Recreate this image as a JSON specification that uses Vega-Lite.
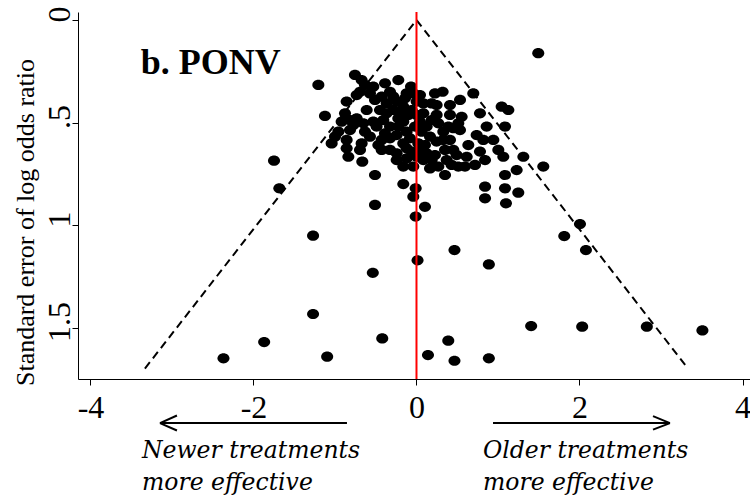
{
  "$schema": "https://vega.github.io/schema/vega-lite/v6.json",
  "width": 672,
  "height": 367,
  "autosize": "none",
  "padding": {"left": 78, "top": 12, "right": 0, "bottom": 122},
  "background": "white",
  "config": {
    "view": {"stroke": null},
    "axis": {"labelFontSize": 32, "titleFontSize": 26}
  },
  "datasets": {
    "studies": [
      {"effect": -0.755, "se": 0.268}, {"effect": -0.673, "se": 0.293}, {"effect": -0.632, "se": 0.317}, {"effect": -0.693, "se": 0.35},
      {"effect": -0.734, "se": 0.366}, {"effect": -1.204, "se": 0.317}, {"effect": -0.53, "se": 0.325}, {"effect": -0.571, "se": 0.358},
      {"effect": -0.386, "se": 0.309}, {"effect": -0.223, "se": 0.293}, {"effect": -0.325, "se": 0.35}, {"effect": -0.067, "se": 0.325},
      {"effect": -0.039, "se": 0.358}, {"effect": 0.043, "se": 0.366}, {"effect": 0.227, "se": 0.358}, {"effect": 0.321, "se": 0.35},
      {"effect": 0.697, "se": 0.358}, {"effect": -0.857, "se": 0.398}, {"effect": -0.509, "se": 0.39}, {"effect": -0.366, "se": 0.407},
      {"effect": -0.243, "se": 0.398}, {"effect": -0.141, "se": 0.382}, {"effect": 0.186, "se": 0.407}, {"effect": 0.411, "se": 0.415},
      {"effect": 0.534, "se": 0.39}, {"effect": -1.123, "se": 0.468}, {"effect": -0.877, "se": 0.455}, {"effect": -0.734, "se": 0.48},
      {"effect": -0.918, "se": 0.496}, {"effect": -0.775, "se": 0.512}, {"effect": -0.632, "se": 0.545}, {"effect": -0.816, "se": 0.537},
      {"effect": -0.959, "se": 0.545}, {"effect": -1.0, "se": 0.569}, {"effect": -0.53, "se": 0.496}, {"effect": -0.448, "se": 0.439},
      {"effect": -0.366, "se": 0.455}, {"effect": -0.284, "se": 0.439}, {"effect": -0.223, "se": 0.48}, {"effect": -0.325, "se": 0.52},
      {"effect": -0.223, "se": 0.52}, {"effect": -0.162, "se": 0.496}, {"effect": -0.059, "se": 0.439}, {"effect": 0.002, "se": 0.463},
      {"effect": 0.084, "se": 0.455}, {"effect": 0.043, "se": 0.496}, {"effect": -0.018, "se": 0.52}, {"effect": 0.125, "se": 0.52},
      {"effect": 0.186, "se": 0.488}, {"effect": 0.247, "se": 0.463}, {"effect": 0.268, "se": 0.504}, {"effect": 0.329, "se": 0.545},
      {"effect": 0.391, "se": 0.52}, {"effect": 0.554, "se": 0.472}, {"effect": 0.513, "se": 0.504}, {"effect": 0.452, "se": 0.528},
      {"effect": 0.534, "se": 0.537}, {"effect": 0.779, "se": 0.455}, {"effect": 1.045, "se": 0.423}, {"effect": 1.127, "se": 0.439},
      {"effect": 1.086, "se": 0.52}, {"effect": 0.738, "se": 0.561}, {"effect": 0.943, "se": 0.585}, {"effect": -1.041, "se": 0.602},
      {"effect": -0.857, "se": 0.585}, {"effect": -0.673, "se": 0.602}, {"effect": -0.468, "se": 0.61}, {"effect": -0.325, "se": 0.577},
      {"effect": -0.162, "se": 0.602}, {"effect": -0.08, "se": 0.577}, {"effect": 0.022, "se": 0.602}, {"effect": 0.636, "se": 0.61},
      {"effect": -0.857, "se": 0.626}, {"effect": -0.836, "se": 0.667}, {"effect": -0.325, "se": 0.634}, {"effect": -0.243, "se": 0.65},
      {"effect": -0.121, "se": 0.675}, {"effect": 0.002, "se": 0.667}, {"effect": -0.039, "se": 0.715}, {"effect": 0.125, "se": 0.65},
      {"effect": 0.186, "se": 0.683}, {"effect": 0.166, "se": 0.724}, {"effect": 0.268, "se": 0.715}, {"effect": 0.35, "se": 0.634},
      {"effect": 0.37, "se": 0.683}, {"effect": 0.431, "se": 0.707}, {"effect": 0.513, "se": 0.715}, {"effect": 0.595, "se": 0.715},
      {"effect": 0.718, "se": 0.707}, {"effect": 0.779, "se": 0.642}, {"effect": 0.841, "se": 0.683}, {"effect": 1.004, "se": 0.634},
      {"effect": 1.065, "se": 0.667}, {"effect": -1.748, "se": 0.686}, {"effect": -0.665, "se": 0.691}, {"effect": -0.509, "se": 0.756},
      {"effect": 0.35, "se": 0.756}, {"effect": 1.086, "se": 0.756}, {"effect": 1.229, "se": 0.732}, {"effect": 1.311, "se": 0.667},
      {"effect": 1.556, "se": 0.715}, {"effect": -1.683, "se": 0.821}, {"effect": -0.162, "se": 0.8}, {"effect": -0.01, "se": 0.821},
      {"effect": -0.039, "se": 0.862}, {"effect": 0.104, "se": 0.911}, {"effect": -0.509, "se": 0.902}, {"effect": -0.01, "se": 0.959},
      {"effect": 0.841, "se": 0.813}, {"effect": 0.841, "se": 0.87}, {"effect": 1.086, "se": 0.821}, {"effect": 1.098, "se": 0.894},
      {"effect": 1.249, "se": 0.842},
      {"effect": -0.427, "se": 0.374}, {"effect": -0.284, "se": 0.374}, {"effect": -0.162, "se": 0.423}, {"effect": -0.1, "se": 0.463},
      {"effect": -0.182, "se": 0.455}, {"effect": -0.407, "se": 0.488}, {"effect": -0.489, "se": 0.52}, {"effect": -0.387, "se": 0.553},
      {"effect": -0.243, "se": 0.561}, {"effect": -0.121, "se": 0.545}, {"effect": 0.063, "se": 0.545}, {"effect": 0.166, "se": 0.569},
      {"effect": 0.247, "se": 0.593}, {"effect": 0.104, "se": 0.61}, {"effect": 0.411, "se": 0.585}, {"effect": 0.329, "se": 0.585},
      {"effect": -0.571, "se": 0.569}, {"effect": -0.427, "se": 0.585}, {"effect": -0.816, "se": 0.488}, {"effect": -0.652, "se": 0.504},
      {"effect": -0.611, "se": 0.439}, {"effect": -0.121, "se": 0.626}, {"effect": 0.022, "se": 0.642}, {"effect": -0.059, "se": 0.642},
      {"effect": 0.227, "se": 0.659}, {"effect": 0.493, "se": 0.659}, {"effect": 0.616, "se": 0.667}, {"effect": 0.084, "se": 0.407},
      {"effect": 0.002, "se": 0.398}, {"effect": 0.247, "se": 0.415}, {"effect": -0.121, "se": 0.358}, {"effect": -0.427, "se": 0.634},
      {"effect": -0.693, "se": 0.634}, {"effect": 0.452, "se": 0.634}, {"effect": 0.82, "se": 0.585}, {"effect": 0.861, "se": 0.52},
      {"effect": 0.411, "se": 0.463}, {"effect": 0.084, "se": 0.683}, {"effect": -0.162, "se": 0.715}, {"effect": -0.243, "se": 0.683},
      {"effect": 2.006, "se": 0.995}, {"effect": -1.269, "se": 1.052}, {"effect": 1.813, "se": 1.054}, {"effect": 0.466, "se": 1.122},
      {"effect": 2.079, "se": 1.122}, {"effect": 0.013, "se": 1.172}, {"effect": 0.888, "se": 1.192}, {"effect": -0.536, "se": 1.233},
      {"effect": -1.269, "se": 1.434}, {"effect": 1.407, "se": 1.493}, {"effect": 2.033, "se": 1.496}, {"effect": 2.826, "se": 1.496},
      {"effect": 3.508, "se": 1.514}, {"effect": -1.869, "se": 1.571}, {"effect": -0.42, "se": 1.553}, {"effect": 0.39, "se": 1.564},
      {"effect": -2.368, "se": 1.65}, {"effect": -1.096, "se": 1.642}, {"effect": 0.141, "se": 1.634}, {"effect": 0.466, "se": 1.662},
      {"effect": 0.888, "se": 1.65}, {"effect": 1.494, "se": 0.162}
    ],
    "funnel": [
      {"effect": -3.332, "se": 1.7, "o": 1},
      {"effect": 0, "se": 0, "o": 2},
      {"effect": 3.332, "se": 1.7, "o": 3}
    ],
    "one": [{}]
  },
  "layer": [
    {
      "data": {"name": "studies"},
      "mark": {"type": "point", "filled": true, "shape": "M-1,0A1,0.85,0,1,1,1,0A1,0.85,0,1,1,-1,0Z", "size": 145, "color": "black", "opacity": 1, "strokeWidth": 0},
      "encoding": {
        "x": {
          "field": "effect", "type": "quantitative",
          "scale": {"domain": [-4.153, 4.092], "nice": false, "zero": false},
          "axis": {
            "values": [-4, -2, 0, 2, 4], "title": null, "grid": false,
            "domainColor": "black", "domainWidth": 1, "tickColor": "black", "tickSize": 6, "tickWidth": 1,
            "labelColor": "black", "labelFont": "Liberation Serif", "labelFontSize": 32,
            "labelExpr": "datum.value < 0 ? '-' + abs(datum.value) : '' + datum.value",
            "labelBaseline": "alphabetic", "labelPadding": 32, "labelFlush": false
          }
        },
        "y": {
          "field": "se", "type": "quantitative",
          "scale": {"domain": [-0.039, 1.751], "nice": false, "zero": false, "reverse": true},
          "axis": {
            "values": [0, 0.5, 1, 1.5], "grid": false,
            "domainColor": "black", "domainWidth": 1, "tickColor": "black", "tickSize": 6, "tickWidth": 1,
            "labelColor": "black", "labelFont": "Liberation Serif", "labelFontSize": 32,
            "labelExpr": "datum.value == 0 ? '0' : datum.value == 0.5 ? '.5' : datum.value == 1 ? '1' : '1.5'",
            "labelAngle": -90, "labelAlign": "center", "labelBaseline": "alphabetic", "labelPadding": 3, "labelOffset": -6, "labelFlush": false,
            "title": "Standard error of log odds ratio",
            "titleFont": "Liberation Serif", "titleColor": "black",
            "titleFontSize": 26, "titleFontWeight": "normal", "titleAngle": -90, "titleAlign": "center", "titleBaseline": "alphabetic",
            "titleX": -45, "titleY": 210
          }
        }
      }
    },
    {
      "data": {"name": "funnel"},
      "mark": {"type": "line", "color": "black", "strokeWidth": 2, "strokeDash": [8, 5]},
      "encoding": {
        "x": {"field": "effect", "type": "quantitative"},
        "y": {"field": "se", "type": "quantitative"},
        "order": {"field": "o"}
      }
    },
    {
      "data": {"name": "one"},
      "mark": {"type": "rule", "color": "#ff0000", "strokeWidth": 2},
      "encoding": {"x": {"datum": 0}}
    },
    {
      "data": {"name": "one"},
      "mark": {"type": "text", "font": "Liberation Serif", "fontWeight": "bold", "fontSize": 36, "align": "left", "baseline": "alphabetic", "color": "black"},
      "encoding": {"x": {"datum": -3.384}, "y": {"datum": 0.263}, "text": {"value": "b. PONV"}}
    },
    {
      "data": {"name": "one"},
      "mark": {"type": "rule", "color": "black", "strokeWidth": 2},
      "encoding": {"x": {"datum": -3.147}, "x2": {"datum": -0.853}, "y": {"datum": 1.966}, "y2": {"datum": 1.966}}
    },
    {
      "data": {"name": "one"},
      "mark": {"type": "rule", "color": "black", "strokeWidth": 2},
      "encoding": {"x": {"datum": -3.147}, "x2": {"datum": -2.939}, "y": {"datum": 1.966}, "y2": {"datum": 1.929}}
    },
    {
      "data": {"name": "one"},
      "mark": {"type": "rule", "color": "black", "strokeWidth": 2},
      "encoding": {"x": {"datum": -3.147}, "x2": {"datum": -2.939}, "y": {"datum": 1.966}, "y2": {"datum": 2.002}}
    },
    {
      "data": {"name": "one"},
      "mark": {"type": "rule", "color": "black", "strokeWidth": 2},
      "encoding": {"x": {"datum": 0.939}, "x2": {"datum": 3.11}, "y": {"datum": 1.966}, "y2": {"datum": 1.966}}
    },
    {
      "data": {"name": "one"},
      "mark": {"type": "rule", "color": "black", "strokeWidth": 2},
      "encoding": {"x": {"datum": 3.11}, "x2": {"datum": 2.902}, "y": {"datum": 1.966}, "y2": {"datum": 1.932}}
    },
    {
      "data": {"name": "one"},
      "mark": {"type": "rule", "color": "black", "strokeWidth": 2},
      "encoding": {"x": {"datum": 3.11}, "x2": {"datum": 2.902}, "y": {"datum": 1.966}, "y2": {"datum": 1.998}}
    },
    {
      "data": {"name": "one"},
      "mark": {"type": "text", "font": "DejaVu Serif", "fontStyle": "italic", "fontSize": 23.5, "align": "left", "baseline": "alphabetic", "lineHeight": 32, "color": "black"},
      "encoding": {"x": {"datum": -3.368}, "y": {"datum": 2.138}, "text": {"value": ["Newer treatments", "more effective"]}}
    },
    {
      "data": {"name": "one"},
      "mark": {"type": "text", "font": "DejaVu Serif", "fontStyle": "italic", "fontSize": 23.5, "align": "left", "baseline": "alphabetic", "lineHeight": 32, "color": "black"},
      "encoding": {"x": {"datum": 0.816}, "y": {"datum": 2.138}, "text": {"value": ["Older treatments", "more effective"]}}
    }
  ]
}
